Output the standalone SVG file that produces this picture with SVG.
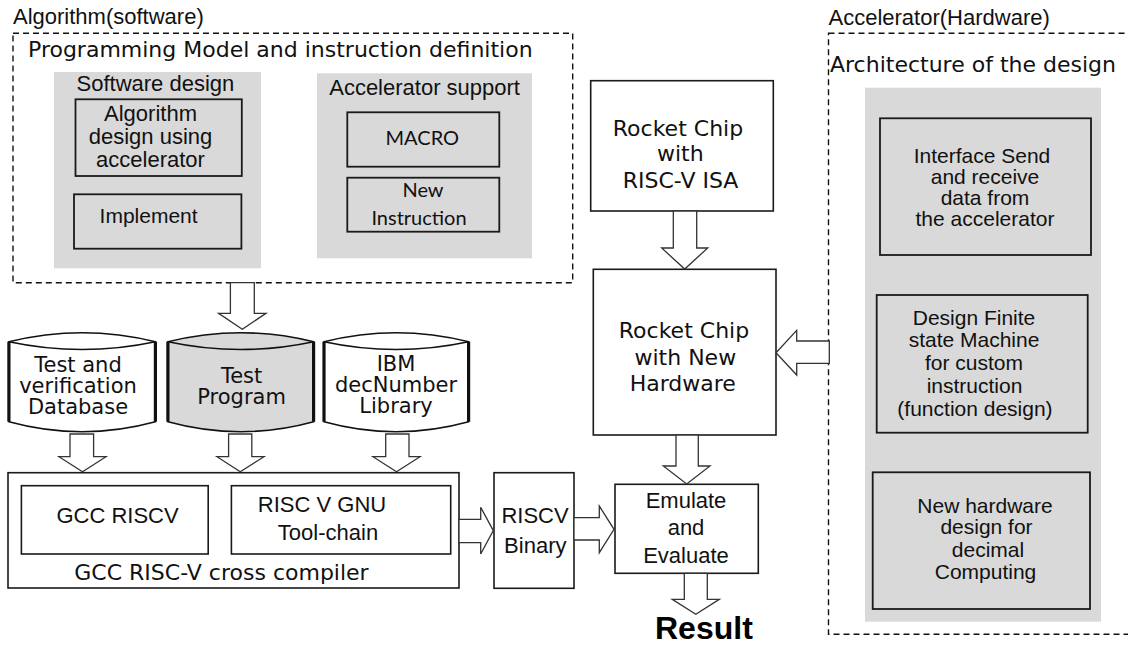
<svg xmlns="http://www.w3.org/2000/svg" width="1128" height="645" viewBox="0 0 1128 645">
<style>
.bg{fill:#ffffff}
.dash{fill:none;stroke:#111;stroke-width:1.4;stroke-dasharray:6,4}
.gray{fill:#d9d9d9;stroke:none}
.box{fill:none;stroke:#1a1a1a;stroke-width:1.6}
.gbox{fill:#d9d9d9;stroke:#1a1a1a;stroke-width:1.8}
.wbox{fill:#ffffff;stroke:#1a1a1a;stroke-width:1.6}
.arr{fill:#ffffff;stroke:#333;stroke-width:1.3;stroke-linejoin:miter}
.cyl{stroke:#111;stroke-width:1.6}
.side{stroke:#111;stroke-width:3.2}
.ls{font-family:"Liberation Sans",Arial,sans-serif;font-size:22px;fill:#111}
.lt2{font-family:"Liberation Sans",Arial,sans-serif;font-size:21px;fill:#111}
.dv{font-family:"DejaVu Sans",Verdana,sans-serif;font-size:22px;fill:#111}
.dv2{font-family:"DejaVu Sans",Verdana,sans-serif;font-size:21px;fill:#111}
.lt{font-family:Lato,"Open Sans",sans-serif;font-size:20px;fill:#111}
.m{text-anchor:middle}
.res{font-family:"Liberation Sans",Arial,sans-serif;font-size:32px;font-weight:bold;fill:#000}
</style>
<rect class="bg" x="0" y="0" width="1128" height="645"/>

<g id="software-section">
  <text class="ls" x="13" y="23.5">Algorithm(software)</text>
  <rect class="dash" x="13" y="33.3" width="559.7" height="249.4"/>
  <text class="dv" x="28" y="57.3">Programming Model and instruction definition</text>
</g>

<g id="software-design">
  <rect class="gray" x="54" y="72" width="207" height="196.3"/>
  <text class="ls m" x="155.4" y="90.7">Software design</text>
</g>
<g id="algorithm-design">
  <rect class="gbox" x="75.5" y="99.3" width="166.3" height="76.7"/>
  <text class="ls m" x="150.5" y="120.7">Algorithm</text>
  <text class="ls m" x="150.5" y="143.5">design using</text>
  <text class="ls m" x="150.5" y="166.5">accelerator</text>
</g>
<g id="implement">
  <rect class="gbox" x="74" y="194.3" width="167.4" height="54.4"/>
  <text class="lt2 m" x="148.6" y="222.7">Implement</text>
</g>

<g id="accelerator-support">
  <rect class="gray" x="317" y="73.3" width="215" height="185"/>
  <text class="ls m" x="424.6" y="95">Accelerator support</text>
</g>
<g id="macro">
  <rect class="gbox" x="347.3" y="112.3" width="152" height="54.4"/>
  <text class="lt m" x="422.3" y="145">MACRO</text>
</g>
<g id="new-instruction">
  <rect class="gbox" x="347.3" y="177.7" width="152" height="54"/>
  <text class="lt m" x="423" y="196.7">New</text>
  <text class="lt m" x="419" y="225">Instruction</text>
</g>

<g id="db-test-verification">
  <path class="cyl" fill="#ffffff" d="M8.9,341.7 Q82.2,323.7 155.4,341.7 L155.4,421.7 Q82.2,441.7 8.9,421.7 Z"/>
  <path class="cyl" fill="none" d="M8.9,341.7 Q82.2,357.3 155.4,341.7"/>
  <line class="side" x1="8.9" y1="341.7" x2="8.9" y2="421.7"/>
  <line class="side" x1="155.4" y1="341.7" x2="155.4" y2="421.7"/>
  <text class="dv2 m" x="78" y="371.7">Test and</text>
  <text class="dv2 m" x="78" y="392.7">verification</text>
  <text class="dv2 m" x="78" y="413.5">Database</text>
</g>
<g id="db-test-program">
  <path class="cyl" fill="#d9d9d9" d="M167.9,341.7 Q240.8,323.7 313.6,341.7 L313.6,421.7 Q240.8,441.7 167.9,421.7 Z"/>
  <path class="cyl" fill="none" d="M167.9,341.7 Q240.8,357.3 313.6,341.7"/>
  <line class="side" x1="167.9" y1="341.7" x2="167.9" y2="421.7"/>
  <line class="side" x1="313.6" y1="341.7" x2="313.6" y2="421.7"/>
  <text class="dv2 m" x="241.6" y="383.3">Test</text>
  <text class="dv2 m" x="241.6" y="404.3">Program</text>
</g>
<g id="db-decnumber">
  <path class="cyl" fill="#ffffff" d="M324,341.7 Q396.3,323.7 468.6,341.7 L468.6,421.7 Q396.3,441.7 324,421.7 Z"/>
  <path class="cyl" fill="none" d="M324,341.7 Q396.3,357.3 468.6,341.7"/>
  <line class="side" x1="324" y1="341.7" x2="324" y2="421.7"/>
  <line class="side" x1="468.6" y1="341.7" x2="468.6" y2="421.7"/>
  <text class="dv2 m" x="396" y="371">IBM</text>
  <text class="dv2 m" x="396" y="391.7">decNumber</text>
  <text class="dv2 m" x="396" y="412.7">Library</text>
</g>

<g id="cross-compiler">
  <rect class="box" x="8" y="472.7" width="451" height="115.3" fill="#ffffff"/>
  <text class="dv m" x="221.5" y="580">GCC RISC-V cross compiler</text>
</g>
<g id="gcc-riscv">
  <rect class="box" x="21.4" y="485.7" width="186.8" height="68.3"/>
  <text class="ls m" x="117.5" y="523.3">GCC RISCV</text>
</g>
<g id="gnu-toolchain">
  <rect class="box" x="231.4" y="485.7" width="219.3" height="68.3"/>
  <text class="ls m" x="322" y="511.7">RISC V GNU</text>
  <text class="ls m" x="328" y="540">Tool-chain</text>
</g>

<g id="riscv-binary">
  <rect class="wbox" x="494" y="472.7" width="80" height="115.6"/>
  <text class="ls m" x="535" y="523.3">RISCV</text>
  <text class="ls m" x="535.3" y="552.7">Binary</text>
</g>

<g id="rocket-isa">
  <rect class="wbox" x="590.7" y="80.7" width="182.6" height="130.3"/>
  <text class="dv m" x="678" y="136">Rocket Chip</text>
  <text class="dv m" x="680.3" y="161">with</text>
  <text class="dv m" x="680.5" y="187.5">RISC-V ISA</text>
</g>
<g id="rocket-new-hw">
  <rect class="wbox" x="593.3" y="269.3" width="182.7" height="165.7"/>
  <text class="dv m" x="684" y="337.5">Rocket Chip</text>
  <text class="dv m" x="685.3" y="364.5">with New</text>
  <text class="dv m" x="682.8" y="391">Hardware</text>
</g>
<g id="emulate">
  <rect class="wbox" x="615" y="484.3" width="143.3" height="89"/>
  <text class="ls m" x="686" y="508.3">Emulate</text>
  <text class="ls m" x="686" y="535">and</text>
  <text class="ls m" x="686" y="563.3">Evaluate</text>
</g>
<g id="result">
  <text class="res" x="655" y="639">Result</text>
</g>

<g id="hardware-section">
  <text class="ls" x="828.5" y="25">Accelerator(Hardware)</text>
  <rect class="dash" x="828.5" y="33.3" width="330" height="601"/>
  <text class="dv" x="830" y="71.7">Architecture of the design</text>
  <rect class="gray" x="865" y="87.7" width="236" height="534"/>
</g>
<g id="interface">
  <rect class="gbox" x="880" y="118.3" width="211" height="136.7"/>
  <text class="lt2 m" x="982" y="163.3">Interface Send</text>
  <text class="lt2 m" x="985" y="184">and receive</text>
  <text class="lt2 m" x="985" y="205">data from</text>
  <text class="lt2 m" x="985" y="226">the accelerator</text>
</g>
<g id="fsm">
  <rect class="gbox" x="876.7" y="295" width="211" height="137.7"/>
  <text class="lt2 m" x="974" y="324.6">Design Finite</text>
  <text class="lt2 m" x="974" y="347.3">state Machine</text>
  <text class="lt2 m" x="974" y="370">for custom</text>
  <text class="lt2 m" x="974.5" y="392.7">instruction</text>
  <text class="lt2 m" x="975" y="416">(function design)</text>
</g>
<g id="decimal-hw">
  <rect class="gbox" x="872.7" y="472.3" width="217.3" height="136.7"/>
  <text class="lt2 m" x="985" y="512.7">New hardware</text>
  <text class="lt2 m" x="986.5" y="534.3">design for</text>
  <text class="lt2 m" x="988" y="557.3">decimal</text>
  <text class="lt2 m" x="985.5" y="579.3">Computing</text>
</g>

<g id="connectors">
  <polygon class="arr" points="230.4,282.7 254.3,282.7 254.3,313.3 266,313.3 242.3,329.3 218.6,313.3 230.4,313.3"/>
  <polygon class="arr" points="70,434 93.6,434 93.6,456.7 106,456.7 82.5,471.7 59,456.7 70,456.7"/>
  <polygon class="arr" points="228.6,434 251.8,434 251.8,456.7 264,456.7 240.3,471.7 217,456.7 228.6,456.7"/>
  <polygon class="arr" points="385.7,434 409,434 409,456.7 420,456.7 396.5,471.7 373,456.7 385.7,456.7"/>
  <polygon class="arr" points="459,519.3 480.7,519.3 480.7,507.3 493.3,530.6 480.7,554 480.7,542.7 459,542.7"/>
  <polygon class="arr" points="574,517.7 599.3,517.7 599.3,506 614,529.3 599.3,552.7 599.3,540 574,540"/>
  <polygon class="arr" points="673.3,211 696.7,211 696.7,248 707.7,248 684.7,269 661.7,248 673.3,248"/>
  <polygon class="arr" points="829.3,341 796.7,341 796.7,330.4 776,352.7 796.7,375 796.7,363.3 829.3,363.3"/>
  <polygon class="arr" points="676,435 698.3,435 698.3,466 710,466 686.7,484 663.3,466 676,466"/>
  <polygon class="arr" points="684.3,573.3 707.3,573.3 707.3,599.3 719.3,599.3 695.8,614.3 672.3,599.3 684.3,599.3"/>
</g>
</svg>
